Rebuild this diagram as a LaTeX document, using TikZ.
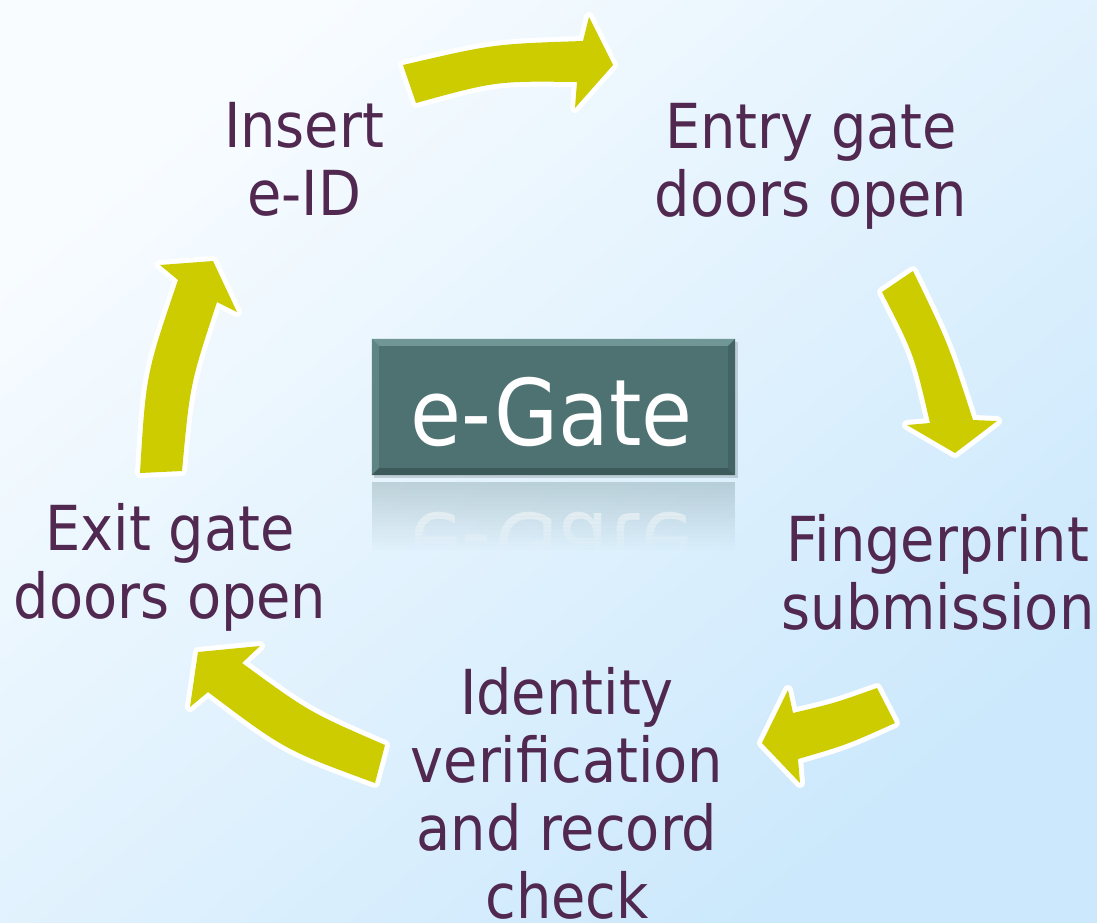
\documentclass[tikz,border=0pt]{standalone}
\usepackage{fontspec}
\setmainfont{DejaVu Sans Condensed}
\usepackage{graphicx}
\definecolor{txt}{RGB}{80,40,80}
\definecolor{arr}{RGB}{204,204,0}
\definecolor{boxc}{RGB}{78,114,114}
\definecolor{bevT}{RGB}{112,150,150}
\definecolor{bevL}{RGB}{94,132,132}
\definecolor{bevB}{RGB}{60,90,90}
\definecolor{bevR}{RGB}{68,100,100}
\definecolor{bgA}{RGB}{248,252,255}
\definecolor{bgB}{RGB}{203,232,252}
\begin{document}
\begin{tikzpicture}[x=1pt,y=-1pt,
  lbl/.style={text=txt, font=\fontsize{62}{68}\selectfont, align=center, anchor=base, inner sep=0pt},
  cyc/.style={fill=arr, preaction={draw=white, line width=10pt, line join=round}},
  egfont/.style={font=\fontsize{92}{92}\selectfont, inner sep=0pt, anchor=base}]
\useasboundingbox (0,0) rectangle (1097,922);
\shade[top color=bgA, bottom color=bgB, shading angle=40] (0,0) rectangle (1097,922);

% block arrows
\path[cyc] (403,65) .. controls (493,44) .. (583,41) -- (589,17) -- (613,65) -- (575,108) -- (577,82)
  .. controls (496,81) .. (416,103) -- cycle;
\path[cyc] (913,271) .. controls (948,343) .. (973,420) -- (997,421) -- (955,453) -- (907,425) -- (930,423)
  .. controls (914,354) .. (882,292) -- cycle;
\path[cyc] (877,688) .. controls (835,703) .. (793,713) -- (788,690) -- (762,743) -- (800,783) -- (798,759)
  .. controls (846,745) .. (895,723) -- cycle;
\path[cyc] (385,745) .. controls (309,712) .. (242,663) -- (260,646) -- (198,652) -- (190,707) -- (208,692)
  .. controls (285,750) .. (375,783) -- cycle;
\path[cyc] (182,471) .. controls (190,384) .. (217,302) -- (237,312) -- (213,261) -- (160,265) -- (178,280)
  .. controls (146,374) .. (140,473) -- cycle;

% labels (anchor = baseline of last line)
\node[lbl] (n1) at (304,215) {Insert\\e-ID};
\node[lbl] (n2) at (811,216) {Entry gate\\doors open};
\node[lbl] (n3) at (938,629) {Fingerprint\\submission};
\node[lbl] (n4) at (567,918) {Identity\\verification\\and record\\check};
\node[lbl] (n5) at (170,618) {Exit gate\\doors open};

% reflection
\foreach \i [evaluate=\i as \op using 0.26*(1-\i/17),
             evaluate=\i as \opt using 0.75*(1-\i/17),
             evaluate=\i as \ya using 482+4*\i,
             evaluate=\i as \yb using 486+4*\i] in {0,...,16} {
  \fill[boxc, opacity=\op] (372,\ya) rectangle (735,\yb);
  \begin{scope}
    \clip (372,\ya) rectangle (735,\yb);
    \node[egfont, text=white, opacity=\opt] (r\i) at (551.5,513) {\scalebox{1}[-1]{e-Gate}};
  \end{scope}
}

% box
\fill[black, opacity=0.15] (374,342) rectangle (738,478);
\node[inner sep=0pt, minimum width=363pt, minimum height=136pt, fill=boxc] (box) at (553.5,407) {};
\fill[bevT] (box.north west) -- (box.north east) -- ([xshift=-7pt,yshift=-7pt]box.north east) -- ([xshift=7pt,yshift=-7pt]box.north west) -- cycle;
\fill[bevL] (box.north west) -- ([xshift=7pt,yshift=-7pt]box.north west) -- ([xshift=7pt,yshift=7pt]box.south west) -- (box.south west) -- cycle;
\fill[bevB] (box.south west) -- ([xshift=7pt,yshift=7pt]box.south west) -- ([xshift=-7pt,yshift=7pt]box.south east) -- (box.south east) -- cycle;
\fill[bevR] (box.south east) -- ([xshift=-7pt,yshift=7pt]box.south east) -- ([xshift=-7pt,yshift=-7pt]box.north east) -- (box.north east) -- cycle;
\node[egfont, text=white] (eg) at (551.5,445) {e-Gate};
\end{tikzpicture}
\end{document}
